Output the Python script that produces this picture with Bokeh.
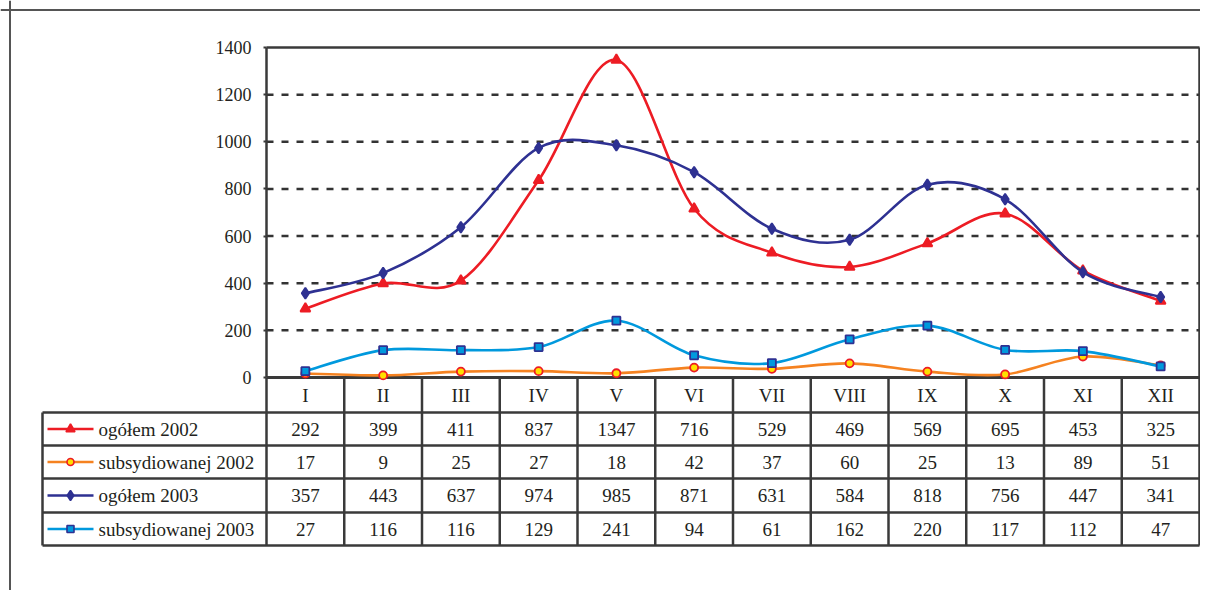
from bokeh.plotting import figure
from bokeh.models import Range1d, LinearAxis, FixedTicker, Span
from bokeh.core.properties import value
from bokeh.embed import file_html
from bokeh.resources import INLINE

# ---------------- data ----------------
months = ["I", "II", "III", "IV", "V", "VI", "VII", "VIII", "IX", "X", "XI", "XII"]
ogolem_2002 = [292, 399, 411, 837, 1347, 716, 529, 469, 569, 695, 453, 325]
subsydiowanej_2002 = [17, 9, 25, 27, 18, 42, 37, 60, 25, 13, 89, 51]
ogolem_2003 = [357, 443, 637, 974, 985, 871, 631, 584, 818, 756, 447, 341]
subsydiowanej_2003 = [27, 116, 116, 129, 241, 94, 61, 162, 220, 117, 112, 47]
series_names = ["ogółem 2002", "subsydiowanej 2002", "ogółem 2003", "subsydiowanej 2003"]
y_ticks = [0, 200, 400, 600, 800, 1000, 1200, 1400]
y_max = 1400

# ---------------- layout (canvas pixels) ----------------
W, H = 1200, 590
PL, PR, PT, PB = 266, 1199, 47, 377          # plot area
LL = 42                                      # legend column left edge
ROW_LINES = [412, 445, 478, 512, 545]        # header bottom + row bottoms
FONT = "'Liberation Serif', 'Times New Roman', serif"
INK = "#231f20"
GRID = "#333333"
RULE = "#3a3a3a"

n = len(months)
sx = (PR - PL) / n
sy = (PB - PT) / y_max


def dx(px):
    return (px - PL) / sx


def dy(px):
    return (PB - px) / sy


p = figure(width=W, height=H, output_backend="svg", toolbar_location=None,
           x_range=Range1d(-PL / sx, (W - PL) / sx),
           y_range=Range1d(-(H - PB) / sy, PB / sy),
           x_axis_type=None, y_axis_type=None,
           min_border_left=0, min_border_right=0, min_border_top=0, min_border_bottom=0)
p.outline_line_color = None
p.xgrid.visible = False
p.ygrid.visible = False
p.background_fill_color = "white"
p.border_fill_color = "white"

# outer frame (top and left)
p.add_layout(Span(location=dx(9.5), dimension="height", line_color="#555555", line_width=2))
p.add_layout(Span(location=dy(9.5), dimension="width", line_color="#555555", line_width=2))

# dashed gridlines
grid_y = [t for t in y_ticks if 0 < t < y_max]
p.segment(x0=[0] * len(grid_y), y0=grid_y, x1=[n] * len(grid_y), y1=grid_y,
          line_color=GRID, line_width=2.5, line_dash="7 8")

# y axis at plot left
yaxis = LinearAxis(fixed_location=0, bounds=(0, y_max), ticker=FixedTicker(ticks=y_ticks))
yaxis.axis_line_color = RULE
yaxis.axis_line_width = 2.5
yaxis.major_tick_line_color = RULE
yaxis.major_tick_line_width = 2
yaxis.major_tick_out = 3
yaxis.major_tick_in = 0
yaxis.minor_tick_out = 0
yaxis.minor_tick_in = 0
yaxis.major_label_standoff = 12
yaxis.major_label_text_font = FONT
yaxis.major_label_text_font_size = "18px"
yaxis.major_label_text_color = INK
p.add_layout(yaxis, "left")

# plot frame top / right and table rules
bottom = dy(ROW_LINES[-1])
p.segment(x0=[0], y0=[y_max], x1=[n], y1=[y_max], line_color=RULE, line_width=2.5)
p.segment(x0=[n], y0=[y_max], x1=[n], y1=[bottom], line_color=RULE, line_width=2.5)
p.segment(x0=[0], y0=[0], x1=[n], y1=[0], line_color=RULE, line_width=3)
cols = list(range(0, n))
p.segment(x0=cols, y0=[0] * len(cols), x1=cols, y1=[bottom] * len(cols),
          line_color=RULE, line_width=2.5)
rl = [dy(r) for r in ROW_LINES]
p.segment(x0=[dx(LL)] * len(rl), y0=rl, x1=[n] * len(rl), y1=rl, line_color=RULE, line_width=2.5)
p.segment(x0=[dx(LL)], y0=[rl[0]], x1=[dx(LL)], y1=[bottom], line_color=RULE, line_width=2.5)

# series
xs = [i + 0.5 for i in range(n)]
styles = [
    dict(vals=ogolem_2002, color="#ed1c24", marker="triangle", size=10, fill="#ed1c24", mline="#ed1c24"),
    dict(vals=subsydiowanej_2002, color="#f58220", marker="circle", size=8, fill="#ffe000", mline="#ed1c24"),
    dict(vals=ogolem_2003, color="#2e3192", marker="diamond", size=11, fill="#2e3192", mline="#2e3192"),
    dict(vals=subsydiowanej_2003, color="#0099dd", marker="square", size=8, fill="#0099dd", mline="#2e3192"),
]


def bezier_parts(x, y):
    out = {k: [] for k in ("x0", "y0", "x1", "y1", "cx0", "cy0", "cx1", "cy1")}
    m = len(x)
    for i in range(m - 1):
        a = max(i - 1, 0)
        b = min(i + 2, m - 1)
        out["x0"].append(x[i]); out["y0"].append(y[i])
        out["x1"].append(x[i + 1]); out["y1"].append(y[i + 1])
        out["cx0"].append(x[i] + (x[i + 1] - x[a]) / 6)
        out["cy0"].append(y[i] + (y[i + 1] - y[a]) / 6)
        out["cx1"].append(x[i + 1] - (x[b] - x[i]) / 6)
        out["cy1"].append(y[i + 1] - (y[b] - y[i]) / 6)
    return out


for s in styles:
    bz = bezier_parts(xs, s["vals"])
    p.bezier(**bz, line_color=s["color"], line_width=2.6, line_cap="round")
    p.scatter(x=xs, y=s["vals"], marker=s["marker"], size=s["size"],
              fill_color=s["fill"], line_color=s["mline"], line_width=1.8)

# header row (months)
hy = dy((PB + ROW_LINES[0]) / 2)
p.text(x=xs, y=[hy] * n, text=months, text_font=value(FONT), text_font_size="19px",
       text_align="center", text_baseline="middle", text_color=INK)

# data rows with legend keys
for r, s in enumerate(styles):
    cy = dy((ROW_LINES[r] + ROW_LINES[r + 1]) / 2)
    p.text(x=xs, y=[cy] * n, text=[str(v) for v in s["vals"]], text_font=value(FONT),
           text_font_size="19px", text_align="center", text_baseline="middle", text_color=INK)
    p.segment(x0=[dx(47)], y0=[cy], x1=[dx(93)], y1=[cy], line_color=s["color"], line_width=2.6)
    p.scatter(x=[dx(70)], y=[cy], marker=s["marker"], size=s["size"] - 1,
              fill_color=s["fill"], line_color=s["mline"], line_width=1.6)
    p.text(x=[dx(98)], y=[cy], text=[series_names[r]], text_font=value(FONT),
           text_font_size="19px", text_align="left", text_baseline="middle", text_color=INK)

open("out.html", "w").write(file_html(p, INLINE))
